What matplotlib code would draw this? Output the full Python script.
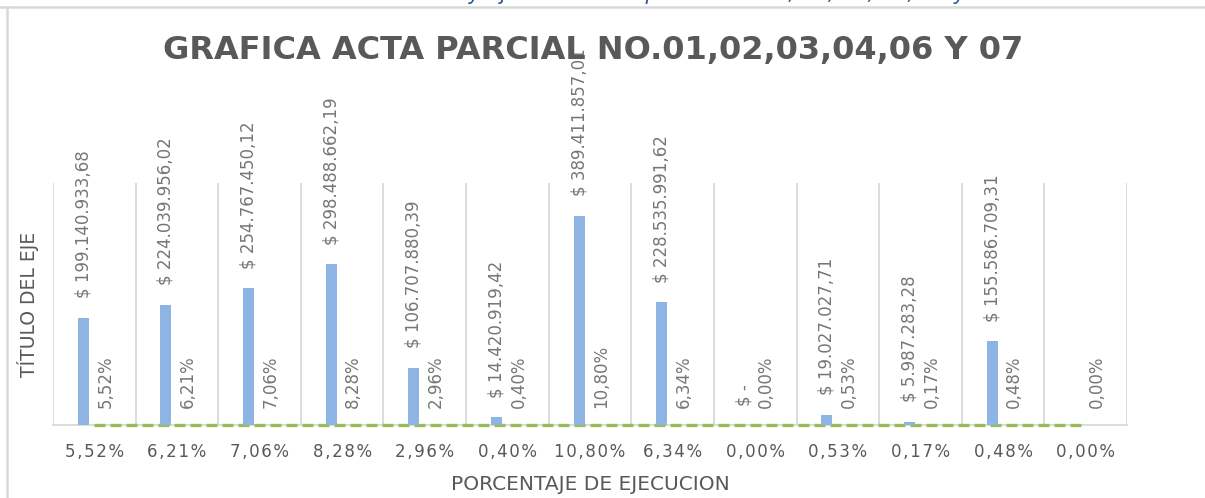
import matplotlib

matplotlib.use("Agg")
import matplotlib.pyplot as plt
import numpy as np

# Acta parcial values (COP) and execution percentage per acta
valores = [199140933.68, 224039956.02, 254767450.12, 298488662.19, 106707880.39,
           14420919.42, 389411857.01, 228535991.62, 0.0, 19027027.71,
           5987283.28, 155586709.31, np.nan]
porcentajes = [5.52, 6.21, 7.06, 8.28, 2.96, 0.40, 10.80, 6.34, 0.00, 0.53,
               0.17, 0.48, 0.00]
categorias = [f"{p:.2f}%".replace(".", ",") for p in porcentajes]

BLUE = "#8EB4E3"
GREEN = "#9BBB59"
GRID = "#D9D9D9"
TXT = "#595959"
LBL = "#767676"


def pesos(v: float) -> str:
    if v == 0:
        return "$ -"
    s = f"{v:,.2f}".replace(",", "X").replace(".", ",").replace("X", ".")
    return f"$ {s}"


def espaciado(s: str) -> str:
    # loose letter spacing for the category labels
    return "\u200a".join(s)


fig = plt.figure(figsize=(12.05, 4.98), dpi=100)
ax = fig.add_axes([0.044, 0.1466, 0.8913, 0.4859])

x = np.arange(len(categorias))
off = 0.133
ax.bar(x - off, np.nan_to_num(valores), width=0.133, color=BLUE, zorder=3)
ax.plot(x, np.zeros_like(x, dtype=float), color=GREEN, lw=2.4,
        linestyle=(0, (3.3, 1.5)), zorder=2.7, clip_on=False)

for xi, v, p in zip(x, valores, porcentajes):
    if not np.isnan(v):
        ax.annotate(pesos(v), (xi - off, v), xytext=(0, 14), textcoords="offset points",
                     rotation=90, ha="center", va="bottom", fontsize=12, color=LBL,
                     zorder=5, annotation_clip=False)
    ax.annotate(f"{p:.2f}%".replace(".", ","), (xi + off, 0), xytext=(0, 12),
                textcoords="offset points", rotation=90, ha="center", va="bottom",
                fontsize=12, color=LBL, zorder=5)

ax.set_xlim(-0.5, len(categorias) - 0.5)
ax.set_ylim(0, 450e6)
for b in np.arange(-0.5, len(categorias), 1.0):
    ax.axvline(b, color=GRID, lw=1.3, zorder=1)

ax.set_yticks([])
ax.set_xticks(x)
ax.set_xticklabels([espaciado(c) for c in categorias], fontsize=12, color=TXT)
ax.tick_params(axis="x", length=0, pad=13)
for side in ("top", "left", "right"):
    ax.spines[side].set_visible(False)
ax.spines["bottom"].set_color(GRID)
ax.spines["bottom"].set_linewidth(1.3)

ax.set_xlabel("PORCENTAJE DE EJECUCION", fontsize=14.5, color=TXT, labelpad=10)
ax.set_ylabel("TÍTULO DEL EJE", fontsize=13.5, color=TXT, labelpad=10)

fig.text(0.4925, 0.898, "GRAFICA ACTA PARCIAL NO.01,02,03,04,06 Y 07", ha="center",
         va="center", fontsize=23, fontweight="bold", color=TXT, zorder=0)
fig.text(385 / 1205, 1.0, "Avance y ejecución acta parcial no. 01, 02, 03, 04, 06 y 07",
         ha="left", va="baseline", fontsize=15, style="italic", color="#2F5597")

# chart frame
fig.add_artist(plt.Line2D([0.0, 1.0], [1 - 7 / 498] * 2, color=GRID, lw=1.8))
fig.add_artist(plt.Line2D([7 / 1205] * 2, [0.0, 1 - 7 / 498], color=GRID, lw=1.8))

fig.savefig("out.png", dpi=100)
